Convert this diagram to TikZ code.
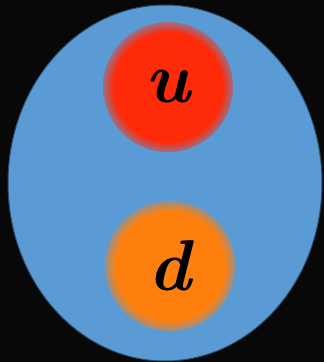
\documentclass[tikz,border=0pt]{standalone}
\usepackage{fontspec}
\usepackage{tikz}

\definecolor{bgblack}{HTML}{080808}
\definecolor{protonblue}{HTML}{5B9BD5}
\definecolor{protonedge}{HTML}{2A4A66}
\definecolor{upred}{HTML}{FF2A08}
\definecolor{downorange}{HTML}{FF7F0E}

\pgfdeclareradialshading{upblob}{\pgfpoint{0bp}{0bp}}{color(0bp)=(upred); color(21bp)=(upred); color(27.5bp)=(protonblue); color(50bp)=(protonblue)}
\pgfdeclareradialshading{downblob}{\pgfpoint{0bp}{0bp}}{color(0bp)=(downorange); color(21bp)=(downorange); color(27.5bp)=(protonblue); color(50bp)=(protonblue)}

\begin{document}
\begin{tikzpicture}[
  x=1pt, y=1pt,
  quark/.style={circle, inner sep=0pt, minimum size=130pt, shade, font=\fontsize{72}{72}\selectfont\bfseries\itshape}
]
% background
\fill[bgblack] (0,0) rectangle (324,362);
\useasboundingbox (0,0) rectangle (324,362);
% proton
\filldraw[fill=protonblue, draw=protonedge, line width=1pt] (165,179) ellipse [x radius=157, y radius=178];
% quarks
\node[quark, shading=upblob] (up) at (168,275) {u};
\node[quark, shading=downblob] (down) at (170,96) {d};
\end{tikzpicture}
\end{document}
